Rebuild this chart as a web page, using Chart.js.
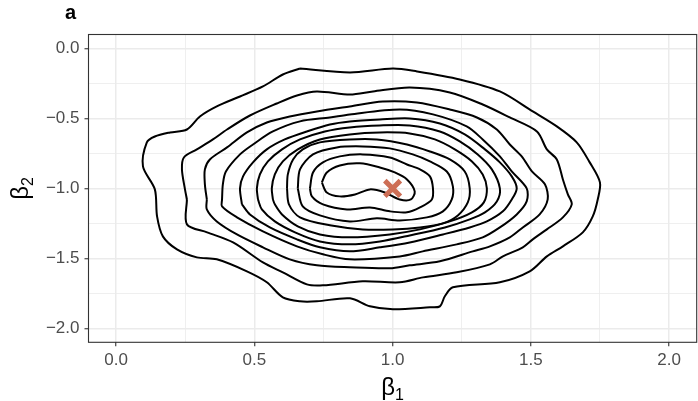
<!DOCTYPE html>
<html>
<head>
<meta charset="utf-8">
<script src="https://cdn.jsdelivr.net/npm/chart.js@4.4.1/dist/chart.umd.min.js"></script>
<style>
  html, body { margin: 0; padding: 0; background: #fff; }
  canvas { display: block; }
</style>
</head>
<body>
<canvas id="chart" width="698" height="401"></canvas>
<script>
// contour levels of the posterior density, outermost first (beta1, beta2)
const level1 = [[0.665,-0.143],[0.846,-0.171],[1.001,-0.143],[1.088,-0.164],[1.243,-0.221],[1.388,-0.307],
  [1.507,-0.450],[1.594,-0.557],[1.666,-0.671],[1.713,-0.814],[1.750,-0.957],[1.742,-1.079],[1.724,-1.200],
  [1.688,-1.314],[1.616,-1.414],[1.558,-1.486],[1.496,-1.593],[1.388,-1.671],[1.218,-1.707],[1.189,-1.771],
  [1.171,-1.843],[1.135,-1.850],[1.001,-1.864],[0.918,-1.843],[0.846,-1.786],[0.726,-1.807],[0.665,-1.807],
  [0.603,-1.779],[0.545,-1.671],[0.473,-1.593],[0.364,-1.507],[0.292,-1.493],[0.220,-1.436],[0.169,-1.343],
  [0.148,-1.200],[0.140,-1.007],[0.097,-0.843],[0.111,-0.671],[0.140,-0.629],[0.195,-0.600],[0.256,-0.579],
  [0.303,-0.486],[0.364,-0.414],[0.448,-0.343],[0.531,-0.271],[0.603,-0.186]];
const level2 = [[0.256,-1.079],[0.249,-1.007],[0.238,-0.864],[0.245,-0.779],[0.292,-0.721],[0.350,-0.650],
  [0.401,-0.579],[0.484,-0.479],[0.581,-0.393],[0.654,-0.336],[0.726,-0.307],[0.846,-0.329],[0.929,-0.307],
  [1.062,-0.279],[1.207,-0.314],[1.326,-0.400],[1.424,-0.493],[1.522,-0.593],[1.558,-0.721],[1.594,-0.793],
  [1.616,-0.936],[1.634,-1.043],[1.648,-1.114],[1.616,-1.207],[1.558,-1.293],[1.507,-1.364],[1.471,-1.421],
  [1.399,-1.486],[1.352,-1.543],[1.232,-1.600],[1.110,-1.636],[1.026,-1.671],[0.892,-1.664],[0.748,-1.693],
  [0.690,-1.686],[0.603,-1.600],[0.531,-1.529],[0.423,-1.386],[0.329,-1.314],[0.256,-1.257]];
const level3 = [[0.328,-1.079],[0.321,-0.971],[0.321,-0.864],[0.339,-0.793],[0.401,-0.707],[0.473,-0.600],
  [0.545,-0.529],[0.628,-0.486],[0.726,-0.450],[0.845,-0.414],[0.965,-0.379],[1.088,-0.386],[1.207,-0.436],
  [1.305,-0.493],[1.377,-0.579],[1.424,-0.686],[1.467,-0.771],[1.504,-0.879],[1.551,-0.971],[1.561,-1.079],
  [1.532,-1.186],[1.471,-1.279],[1.424,-1.350],[1.352,-1.414],[1.290,-1.450],[1.171,-1.521],[1.062,-1.550],
  [0.990,-1.571],[0.845,-1.564],[0.726,-1.550],[0.628,-1.507],[0.531,-1.421],[0.437,-1.329],[0.364,-1.236],
  [0.328,-1.150]];
const level4 = [[0.383,-1.079],[0.386,-0.971],[0.397,-0.879],[0.448,-0.757],[0.495,-0.686],[0.567,-0.593],
  [0.665,-0.521],[0.773,-0.493],[0.845,-0.471],[1.026,-0.436],[1.146,-0.471],[1.268,-0.557],[1.326,-0.650],
  [1.388,-0.771],[1.431,-0.879],[1.485,-1.000],[1.485,-1.093],[1.449,-1.186],[1.388,-1.279],[1.326,-1.350],
  [1.232,-1.400],[1.109,-1.450],[1.026,-1.486],[0.845,-1.507],[0.748,-1.471],[0.654,-1.414],[0.531,-1.307],
  [0.437,-1.207],[0.383,-1.129]];
const level5 = [[0.455,-1.114],[0.448,-1.000],[0.459,-0.914],[0.495,-0.814],[0.545,-0.721],[0.610,-0.650],
  [0.690,-0.593],[0.773,-0.543],[0.845,-0.521],[0.954,-0.507],[1.062,-0.500],[1.171,-0.536],[1.261,-0.614],
  [1.334,-0.721],[1.388,-0.814],[1.431,-0.914],[1.449,-1.000],[1.431,-1.079],[1.399,-1.164],[1.341,-1.236],
  [1.279,-1.279],[1.182,-1.329],[1.062,-1.386],[0.954,-1.421],[0.845,-1.450],[0.737,-1.421],[0.654,-1.364],
  [0.556,-1.279],[0.484,-1.186]];
const level6 = [[0.513,-1.079],[0.509,-1.000],[0.520,-0.900],[0.549,-0.807],[0.600,-0.721],[0.665,-0.650],
  [0.755,-0.593],[0.845,-0.564],[0.954,-0.550],[1.062,-0.550],[1.171,-0.593],[1.243,-0.664],[1.308,-0.757],
  [1.359,-0.864],[1.388,-1.000],[1.377,-1.093],[1.334,-1.171],[1.279,-1.221],[1.189,-1.279],[1.062,-1.336],
  [0.954,-1.379],[0.845,-1.400],[0.737,-1.379],[0.647,-1.314],[0.574,-1.236],[0.527,-1.150]];
const level7 = [[0.567,-1.079],[0.563,-1.000],[0.574,-0.900],[0.603,-0.807],[0.657,-0.721],[0.737,-0.650],
  [0.845,-0.614],[0.954,-0.600],[1.062,-0.607],[1.153,-0.650],[1.225,-0.721],[1.287,-0.807],[1.326,-0.900],
  [1.341,-1.000],[1.330,-1.100],[1.287,-1.171],[1.207,-1.236],[1.099,-1.293],[0.990,-1.329],[0.845,-1.350],
  [0.737,-1.329],[0.657,-1.271],[0.600,-1.186],[0.574,-1.114]];
const level8 = [[0.618,-1.000],[0.621,-0.900],[0.640,-0.793],[0.675,-0.721],[0.737,-0.671],[0.845,-0.650],
  [0.943,-0.650],[1.052,-0.686],[1.135,-0.736],[1.207,-0.793],[1.261,-0.879],[1.279,-1.000],[1.272,-1.100],
  [1.236,-1.193],[1.182,-1.250],[1.099,-1.279],[1.001,-1.293],[0.892,-1.293],[0.773,-1.264],[0.665,-1.207],
  [0.625,-1.114]];
const level9 = [[0.657,-1.000],[0.665,-0.864],[0.712,-0.757],[0.798,-0.707],[0.892,-0.700],[0.990,-0.714],
  [1.073,-0.757],[1.135,-0.807],[1.196,-0.879],[1.218,-0.986],[1.214,-1.079],[1.182,-1.164],[1.124,-1.207],
  [1.026,-1.229],[0.943,-1.214],[0.845,-1.236],[0.737,-1.193],[0.675,-1.129]];
const level10 = [[0.701,-1.000],[0.712,-0.886],[0.748,-0.814],[0.809,-0.771],[0.892,-0.757],[0.990,-0.779],
  [1.052,-0.829],[1.099,-0.864],[1.135,-0.914],[1.146,-1.000],[1.142,-1.079],[1.099,-1.136],[1.052,-1.171],
  [0.990,-1.164],[0.918,-1.136],[0.835,-1.150],[0.748,-1.114],[0.708,-1.057]];
const level11 = [[0.744,-0.957],[0.762,-0.886],[0.809,-0.836],[0.882,-0.821],[0.954,-0.850],[1.008,-0.886],
  [1.052,-0.936],[1.080,-1.021],[1.066,-1.079],[1.026,-1.079],[0.972,-1.029],[0.918,-1.007],[0.864,-1.043],
  [0.809,-1.057],[0.762,-1.029]];
const levels = [level1, level2, level3, level4, level5, level6, level7, level8, level9, level10, level11];

// true parameter value
const trueBeta = [1.0, -1.0];

const xTicks = [0, 0.25, 0.5, 0.75, 1, 1.25, 1.5, 1.75, 2];
const yTicks = [-2, -1.75, -1.5, -1.25, -1, -0.75, -0.5, -0.25, 0];

const isMajor = v => Math.abs(v * 2 - Math.round(v * 2)) < 1e-9;
const fmt = v => isMajor(v) ? (v < 0 ? '\u2212' : '') + Math.abs(v).toFixed(1) : '';

const contourSets = levels.map(pts => ({
  data: pts.concat([pts[0]]).map(p => ({ x: p[0], y: p[1] })),
  showLine: true,
  borderColor: '#000',
  borderWidth: 2,
  pointRadius: 0,
  tension: 0.3,
  fill: false,
  order: 1
}));

const markerSet = {
  data: [{ x: trueBeta[0], y: trueBeta[1] }],
  pointStyle: 'crossRot',
  pointRadius: 11,
  pointBorderWidth: 5,
  pointBorderColor: '#cd6e55',
  showLine: false,
  order: 0
};

const gridOpts = {
  color: '#ebebeb',
  lineWidth: c => isMajor(c.tick.value) ? 1.5 : 0.8,
  tickLength: 4,
  tickColor: c => isMajor(c.tick.value) ? '#333333' : 'rgba(0,0,0,0)',
  tickWidth: 1.1
};

const panel = {
  id: 'panel',
  afterDatasetsDraw(chart) {
    const { ctx, chartArea: a } = chart;
    ctx.save();
    ctx.strokeStyle = '#333333';
    ctx.lineWidth = 1.1;
    ctx.strokeRect(a.left, a.top, a.right - a.left, a.bottom - a.top);

    ctx.fillStyle = '#000';
    ctx.font = 'bold 20px "Liberation Sans"';
    ctx.textBaseline = 'alphabetic';
    ctx.fillText('a', 65, 19);

    // x title
    const cx = (a.left + a.right) / 2;
    ctx.font = '24px "Liberation Sans"';
    const bw = ctx.measureText('\u03b2').width;
    ctx.font = '16px "Liberation Sans"';
    const sw = ctx.measureText('1').width;
    let x0 = cx - (bw + sw) / 2;
    ctx.font = '24px "Liberation Sans"';
    ctx.fillText('\u03b2', x0, 395);
    ctx.font = '16px "Liberation Sans"';
    ctx.fillText('1', x0 + bw, 400);

    // y title
    const cy = (a.top + a.bottom) / 2;
    ctx.translate(28, cy);
    ctx.rotate(-Math.PI / 2);
    x0 = -(bw + sw) / 2;
    ctx.font = '24px "Liberation Sans"';
    ctx.fillText('\u03b2', x0, 0);
    ctx.font = '16px "Liberation Sans"';
    ctx.fillText('2', x0 + bw, 5);
    ctx.restore();
  }
};

new Chart(document.getElementById('chart'), {
  type: 'scatter',
  data: { datasets: [markerSet, ...contourSets] },
  options: {
    responsive: false,
    animation: false,
    devicePixelRatio: 1,
    layout: { autoPadding: false, padding: { top: 34.5, right: 1.3, left: 0, bottom: 0 } },
    plugins: { legend: { display: false }, tooltip: { enabled: false } },
    scales: {
      x: {
        type: 'linear',
        min: -0.1,
        max: 2.1,
        afterBuildTicks: s => { s.ticks = xTicks.map(v => ({ value: v })); },
        afterFit: s => { s.height = 58.7; s.paddingLeft = 0; s.paddingRight = 0; },
        grid: gridOpts,
        border: { display: false },
        ticks: {
          callback: v => fmt(v),
          autoSkip: false,
          maxRotation: 0,
          padding: 4,
          color: '#4d4d4d',
          font: { family: '"Liberation Sans"', size: 17 }
        }
      },
      y: {
        type: 'linear',
        min: -2.1,
        max: 0.1,
        afterBuildTicks: s => { s.ticks = yTicks.map(v => ({ value: v })); },
        afterFit: s => { s.width = 88.5; s.paddingTop = 0; s.paddingBottom = 0; },
        grid: gridOpts,
        border: { display: false },
        ticks: {
          callback: v => fmt(v),
          autoSkip: false,
          padding: 5,
          color: '#4d4d4d',
          font: { family: '"Liberation Sans"', size: 17 }
        }
      }
    }
  },
  plugins: [panel]
});
</script>
</body>
</html>
